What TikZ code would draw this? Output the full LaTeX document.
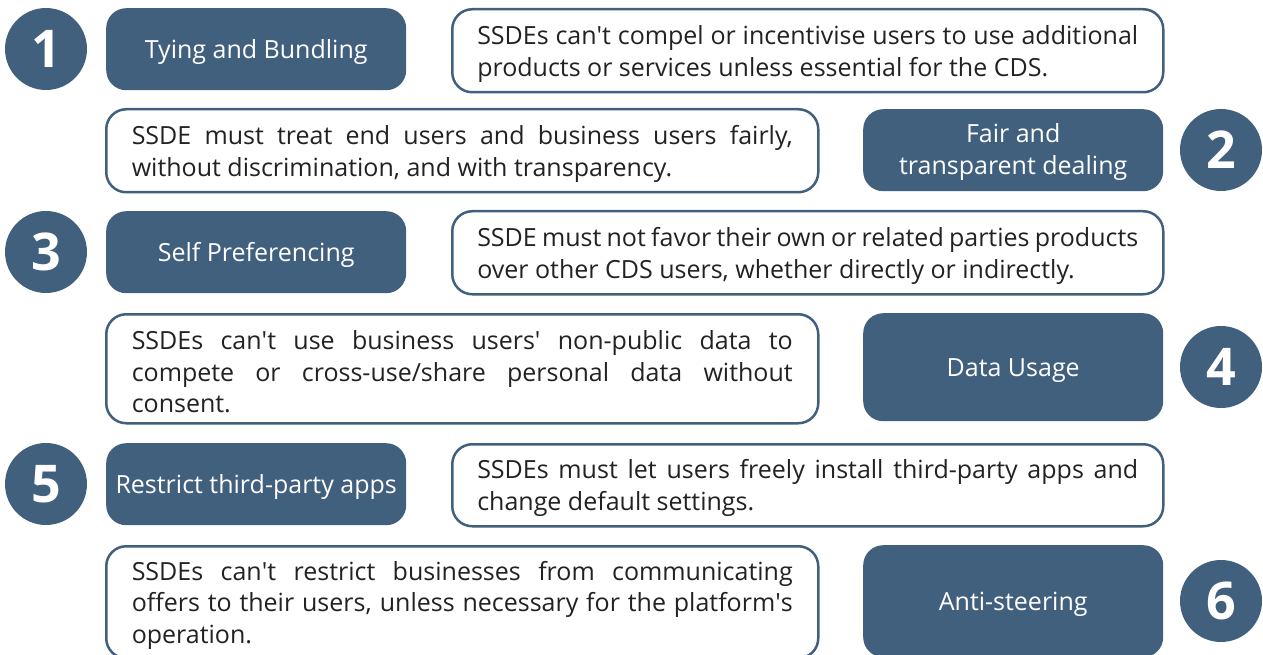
\documentclass[tikz,border=0pt]{standalone}
\usepackage{fontspec}
\setmainfont{Open Sans}
\definecolor{navy}{HTML}{41607E}
\definecolor{ink}{HTML}{222222}
\newcommand{\ap}{\textquotesingle}
\begin{document}
\begin{tikzpicture}[x=1pt,y=-1pt,
  badge/.style={circle, fill=navy, minimum size=82pt, inner sep=0pt, text=white,
    font=\fontsize{52}{52}\selectfont\bfseries},
  topic/.style={rounded corners=20pt, fill=navy, minimum width=300pt, minimum height=82pt,
    inner sep=0pt, anchor=north west},
  topictext/.style={text=white, align=center, inner sep=0pt,
    font=\fontsize{25}{32}\selectfont},
  rulebox/.style={rounded corners=20pt, draw=navy, line width=2.5pt, fill=white,
    minimum height=83pt, inner sep=0pt, anchor=north west},
  ruletext/.style={text=ink, text width=661pt, align=justify, inner sep=0pt,
    font=\fontsize{25}{31.8}\selectfont}
]
\useasboundingbox (0,0) rectangle (1263,655);
\clip (0,0) rectangle (1263,655);

% 1
\node[badge] (b1) at (46,49) {1};
\node[topic] (t1) at (106,8) {};
\node[topictext] (t1x) at ([yshift=-3pt]t1.center) {Tying and Bundling};
\node[rulebox, minimum width=711pt] (r1) at (451,8) {};
\node[ruletext] (r1x) at ([yshift=-3pt]r1.center) {SSDEs can\ap t compel or incentivise users to use additional\linebreak products or services unless essential for the CDS.};

% 2
\node[rulebox, minimum width=712pt] (r2) at (105,108) {};
\node[ruletext] (r2x) at ([yshift=-3pt]r2.center) {SSDE must treat end users and business users fairly,\linebreak without discrimination, and with transparency.};
\node[topic] (t2) at (863,109) {};
\node[topictext] (t2x) at ([yshift=-2pt]t2.center) {Fair and\\transparent dealing};
\node[badge] (b2) at (1221,150) {2};

% 3
\node[badge] (b3) at (46,252) {3};
\node[topic] (t3) at (106,211) {};
\node[topictext] (t3x) at ([yshift=-3pt]t3.center) {Self Preferencing};
\node[rulebox, minimum width=711pt] (r3) at (451,210) {};
\node[ruletext] (r3x) at ([yshift=-3pt]r3.center) {SSDE must not favor their own or related parties products\linebreak over other CDS users, whether directly or indirectly.};

% 4
\node[rulebox, minimum width=712pt, minimum height=109pt] (r4) at (105,313) {};
\node[ruletext] (r4x) at ([yshift=-3pt]r4.center) {SSDEs can\ap t use business users\ap\ non-public data to\linebreak compete or cross-use/share personal data without\linebreak consent.};
\node[topic, minimum height=108pt] (t4) at (863,313) {};
\node[topictext] (t4x) at ([yshift=-3pt]t4.center) {Data Usage};
\node[badge] (b4) at (1221,367) {4};

% 5
\node[badge] (b5) at (46,484) {5};
\node[topic] (t5) at (106,443) {};
\node[topictext] (t5x) at ([yshift=-3pt]t5.center) {Restrict third-party apps};
\node[rulebox, minimum width=711pt, minimum height=82pt] (r5) at (451,443) {};
\node[ruletext] (r5x) at ([yshift=-3pt]r5.center) {SSDEs must let users freely install third-party apps and\linebreak change default settings.};

% 6
\node[rulebox, minimum width=712pt, minimum height=112pt] (r6) at (105,545) {};
\node[ruletext] (r6x) at ([yshift=-3pt]r6.center) {SSDEs can\ap t restrict businesses from communicating\linebreak offers to their users, unless necessary for the platform\ap s\linebreak operation.};
\node[topic, minimum height=112pt] (t6) at (863,545) {};
\node[topictext] (t6x) at ([yshift=-3pt]t6.center) {Anti-steering};
\node[badge] (b6) at (1221,601) {6};
\end{tikzpicture}
\end{document}
